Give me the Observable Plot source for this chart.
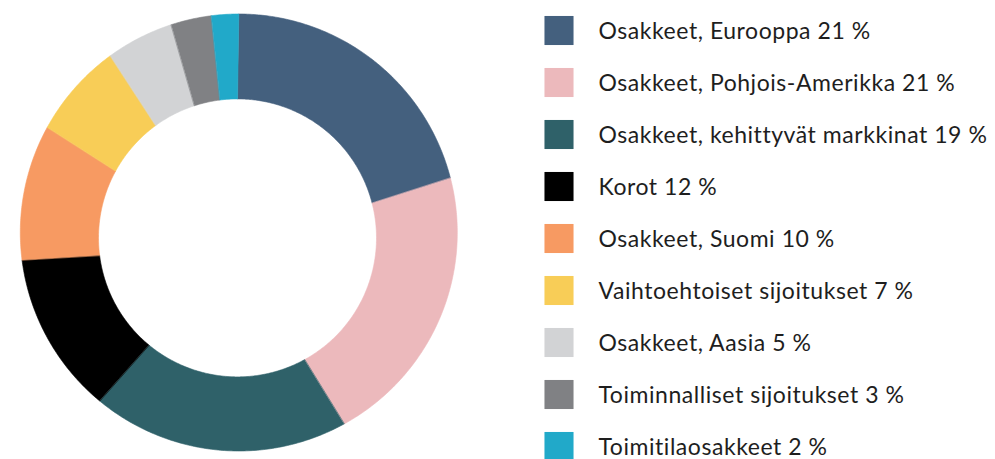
<!DOCTYPE html>
<html>
<head>
<meta charset="utf-8">
<script src="https://cdn.jsdelivr.net/npm/d3@7"></script>
<script src="https://cdn.jsdelivr.net/npm/@observablehq/plot@0.6"></script>
<style>
  html, body { margin: 0; padding: 0; background: #fff; }
  #wrap { display: flex; flex-direction: row; width: 995px; height: 459px; overflow: hidden; }
  #wrap svg { display: block; }
</style>
</head>
<body>
<div id="wrap"></div>
<script>
const categories = [
  "Osakkeet, Eurooppa",
  "Osakkeet, Pohjois-Amerikka",
  "Osakkeet, kehittyvät markkinat",
  "Korot",
  "Osakkeet, Suomi",
  "Vaihtoehtoiset sijoitukset",
  "Osakkeet, Aasia",
  "Toiminnalliset sijoitukset",
  "Toimitilaosakkeet"
];
const values = [21, 21, 19, 12, 10, 7, 5, 3, 2];
const colors = ["#44607e", "#ecb9bc", "#2f6169", "#000000", "#f79a62", "#f8cd57", "#d2d3d5", "#808184", "#21a9c9"];
const labels = categories.map((c, i) => `${c} ${values[i]} %`);

// ring geometry (unit = outer radius)
const innerRatio = 139 / 218.5;
const innerDx = -1.3 / 218.5;
const innerDy = -5.4 / 218.5;

// Build ring polygons from pie angles
const arcs = d3.pie().sort(null).value(d => d)(values);
const pts = [];
arcs.forEach((a, i) => {
  const n = Math.max(8, Math.ceil((a.endAngle - a.startAngle) / 0.01));
  for (let k = 0; k <= n; k++) {
    const t = a.startAngle + (a.endAngle - a.startAngle) * k / n;
    pts.push({cat: categories[i], x: Math.sin(t), y: Math.cos(t)});
  }
  for (let k = n; k >= 0; k--) {
    const t = a.startAngle + (a.endAngle - a.startAngle) * k / n;
    pts.push({cat: categories[i], x: innerDx + innerRatio * Math.sin(t), y: innerDy + innerRatio * Math.cos(t)});
  }
});

const colorScale = {domain: categories, range: colors};

const donut = Plot.plot({
  width: 480,
  height: 459,
  margin: 0,
  x: {domain: [-1, 1], range: [19.8, 456.8], axis: null},
  y: {domain: [-1, 1], range: [450.5, 13.5], axis: null},
  color: colorScale,
  marks: [
    Plot.line(pts, {x: "x", y: "y", z: "cat", fill: "cat", stroke: "cat", strokeWidth: 0.6, curve: "linear-closed"})
  ]
});

const legendData = categories.map((c, i) => ({cat: c, label: labels[i]}));
const legend = Plot.plot({
  width: 515,
  height: 459,
  margin: 0,
  style: {fontFamily: "Lato, sans-serif"},
  y: {type: "point", domain: categories, range: [27.5, 448.5], padding: 0, axis: null},
  color: colorScale,
  marks: [
    Plot.dot(legendData, {y: "cat", frameAnchor: "left", dx: 78.5, symbol: "square", r: 16.4, fill: "cat", stroke: null}),
    Plot.text(legendData, {y: "cat", text: "label", frameAnchor: "left", dx: 118, dy: 1.5, textAnchor: "start", fontSize: 23, fill: "#1e1e1e", lineAnchor: "middle"})
  ]
});
legend.querySelectorAll("text").forEach(t => t.style.letterSpacing = "0.55px");

document.getElementById("wrap").append(donut, legend);
</script>
</body>
</html>
